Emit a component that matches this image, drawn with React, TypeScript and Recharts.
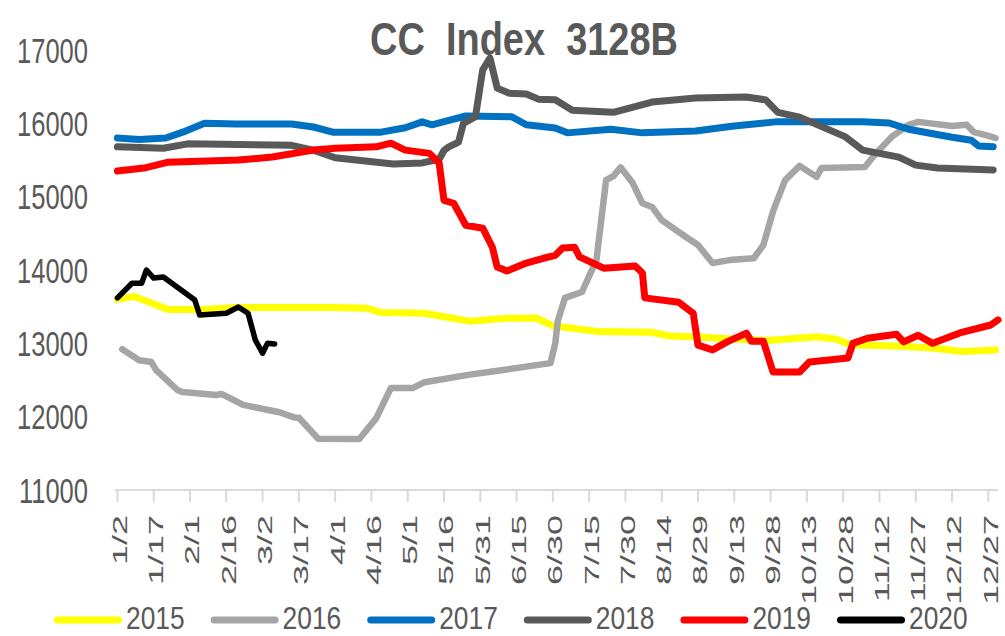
import { LineChart, Line, XAxis, YAxis } from 'recharts';

// day-of-year positions of the category labels (leap-year calendar, 1/1 = 0)
const tickDays = [1, 16, 31, 46, 61, 76, 91, 106, 121, 136, 151, 166, 181, 196, 211, 226, 241, 256, 271, 286, 301, 316, 331, 346, 361];
const tickLabels = ['1/2', '1/17', '2/1', '2/16', '3/2', '3/17', '4/1', '4/16', '5/1', '5/16', '5/31', '6/15', '6/30', '7/15', '7/30', '8/14', '8/29', '9/13', '9/28', '10/13', '10/28', '11/12', '11/27', '12/12', '12/27'];
const yTicks = [11000, 12000, 13000, 14000, 15000, 16000, 17000];

// [day, price]
const s2015: [number, number][] = [
  [1, 13600], [8, 13640], [22, 13460], [37, 13460], [50, 13490], [91, 13490], [104, 13480], [110, 13420],
  [128, 13410], [147, 13300], [160, 13340], [174, 13345], [181, 13240], [200, 13160], [222, 13150],
  [229, 13100], [242, 13085], [255, 13060], [270, 13040], [290, 13090], [298, 13060], [304, 12980],
  [325, 12960], [338, 12935], [350, 12890], [364, 12910],
];
const s2016: [number, number][] = [
  [3, 12920], [10, 12770], [15, 12745], [17, 12635], [26, 12360], [28, 12335], [42, 12295], [44, 12310],
  [53, 12160], [68, 12060], [74, 11990], [76, 11985], [84, 11700], [101, 11695], [108, 11980], [114, 12390],
  [123, 12390], [128, 12470], [146, 12570], [159, 12630], [180, 12730], [182, 13000], [183, 13300],
  [186, 13620], [193, 13700], [199, 14135], [203, 15225], [206, 15280], [209, 15400], [214, 15185],
  [218, 14910], [222, 14860], [226, 14680], [236, 14450], [241, 14340], [247, 14095], [254, 14135],
  [264, 14160], [268, 14340], [272, 14800], [277, 15225], [283, 15420], [290, 15270], [292, 15390],
  [310, 15405], [314, 15570], [321, 15815], [328, 15980], [332, 16020], [346, 15965], [352, 15980],
  [355, 15880], [360, 15840], [364, 15800],
];
const s2017: [number, number][] = [
  [1, 15800], [10, 15780], [21, 15800], [28, 15880], [37, 16000], [50, 15990], [73, 15990], [82, 15950],
  [90, 15880], [110, 15880], [120, 15940], [127, 16020], [131, 15980], [138, 16040], [145, 16100],
  [164, 16090], [170, 15980], [182, 15935], [187, 15870], [205, 15920], [218, 15870], [240, 15895],
  [255, 15960], [273, 16020], [309, 16020], [320, 16005], [328, 15920], [346, 15810], [354, 15770],
  [357, 15690], [363, 15680],
];
const s2018: [number, number][] = [
  [1, 15680], [20, 15660], [30, 15720], [73, 15700], [82, 15635], [91, 15530], [115, 15445], [127, 15460],
  [134, 15510], [136, 15630], [138, 15680], [142, 15745], [144, 16000], [149, 16090], [152, 16730],
  [155, 16890], [158, 16480], [163, 16410], [170, 16400], [175, 16330], [182, 16320], [189, 16180],
  [206, 16150], [222, 16290], [240, 16345], [261, 16360], [269, 16320], [274, 16150], [283, 16085],
  [302, 15815], [309, 15635], [324, 15540], [331, 15430], [340, 15390], [363, 15365],
];
const s2019: [number, number][] = [
  [1, 15350], [12, 15390], [22, 15470], [51, 15500], [65, 15540], [82, 15635], [91, 15660], [108, 15680],
  [114, 15730], [120, 15635], [130, 15590], [134, 15460], [136, 14950], [140, 14910], [145, 14610],
  [152, 14570], [156, 14310], [158, 14040], [162, 13985], [170, 14095], [177, 14160], [182, 14200],
  [185, 14300], [190, 14310], [192, 14180], [202, 14025], [215, 14055], [218, 13960], [219, 13620],
  [233, 13560], [239, 13410], [241, 12975], [247, 12910], [253, 13020], [261, 13140], [263, 13030],
  [268, 13030], [272, 12610], [283, 12610], [287, 12745], [303, 12800], [305, 13000], [311, 13070],
  [323, 13125], [326, 13020], [332, 13110], [338, 13000], [350, 13150], [362, 13250], [365, 13320],
];
const s2020: [number, number][] = [
  [1, 13620], [7, 13820], [11, 13820], [13, 14000], [16, 13890], [20, 13905], [33, 13590], [35, 13385],
  [46, 13410], [51, 13495], [55, 13410], [58, 13045], [61, 12865], [63, 13000], [66, 12990],
];

const series = [
  { name: '2015', color: '#FFFF00', points: s2015, width: 7 },
  { name: '2016', color: '#A5A5A5', points: s2016, width: 6.5 },
  { name: '2017', color: '#0070C0', points: s2017, width: 7 },
  { name: '2018', color: '#595959', points: s2018, width: 7 },
  { name: '2019', color: '#FF0000', points: s2019, width: 7 },
  { name: '2020', color: '#000000', points: s2020, width: 5.5 },
];

const FONT = '"Liberation Sans", Arial, sans-serif';
const GREY = '#595959';

const YTick = ({ x, y, payload }: any) => (
  <text
    transform={`translate(${x},${y}) scale(0.73,1)`}
    textAnchor="end"
    dominantBaseline="central"
    fontSize={35}
    fontFamily={FONT}
    fill={GREY}
  >
    {payload.value}
  </text>
);

const XTick = ({ x, y, payload }: any) => {
  const i = tickDays.indexOf(payload.value);
  return (
    <text
      transform={`translate(${x + 2},${y}) rotate(-90) scale(1,0.58)`}
      textAnchor="end"
      dominantBaseline="central"
      fontSize={36}
      fontFamily={FONT}
      fill={GREY}
    >
      {tickLabels[i]}
    </text>
  );
};

export default function App() {
  return (
    <div style={{ position: 'absolute', left: 0, top: 0, width: 1005, height: 636, background: '#fff' }}>
      <LineChart width={1005} height={636} margin={{ top: 50, right: 7, bottom: 36, left: 15 }}>
        <XAxis
          dataKey="d"
          type="number"
          domain={[0, 365]}
          ticks={tickDays}
          interval={0}
          height={110}
          axisLine={{ stroke: '#D9D9D9', strokeWidth: 2 }}
          tickLine={{ stroke: '#D9D9D9', strokeWidth: 2 }}
          tickSize={12}
          tickMargin={13}
          tick={<XTick />}
        />
        <YAxis
          type="number"
          domain={[11000, 17000]}
          ticks={yTicks}
          interval={0}
          width={100}
          axisLine={false}
          tickLine={false}
          tickSize={0}
          tickMargin={27}
          tick={<YTick />}
        />
        {series.map((s) => (
          <Line
            key={s.name}
            name={s.name}
            data={s.points.map(([d, v]) => ({ d, v }))}
            dataKey="v"
            type="linear"
            stroke={s.color}
            strokeWidth={s.width}
            strokeLinejoin="round"
            strokeLinecap="round"
            dot={false}
            activeDot={false}
            isAnimationActive={false}
          />
        ))}
      </LineChart>
      <svg width={1005} height={636} style={{ position: 'absolute', left: 0, top: 0, pointerEvents: 'none' }}>
        <text
          x={524}
          y={55}
          textAnchor="middle"
          fontSize={46}
          fontWeight="bold"
          fontFamily={FONT}
          fill={GREY}
          textLength={308}
          lengthAdjust="spacingAndGlyphs"
          style={{ whiteSpace: 'pre' }}
        >
          {'CC  Index  3128B'}
        </text>
        {series.map((s, i) => {
          const x0 = 54 + i * 156.6;
          return (
            <g key={s.name}>
              <line x1={x0 + 3.5} y1={620} x2={x0 + 64.5} y2={620} stroke={s.color} strokeWidth={7} strokeLinecap="round" />
              <text
                transform={`translate(${x0 + 72},629) scale(0.85,1)`}
                fontSize={31}
                fontFamily={FONT}
                fill={GREY}
              >
                {s.name}
              </text>
            </g>
          );
        })}
      </svg>
    </div>
  );
}
